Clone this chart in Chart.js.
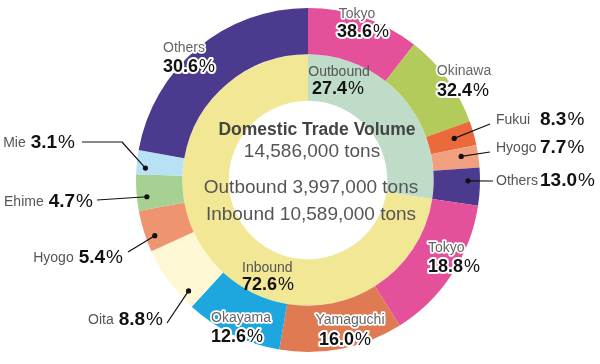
<!DOCTYPE html>
<html>
<head>
<meta charset="utf-8">
<script src="https://cdn.jsdelivr.net/npm/chart.js@4.4.1/dist/chart.umd.min.js"></script>
<style>
  html, body { margin: 0; padding: 0; background: #ffffff; }
  #wrap { width: 600px; height: 364px; }
</style>
</head>
<body>
<div id="wrap"><canvas id="c" width="600" height="364"></canvas></div>
<script>
// ---------------- data ----------------
const directionNames = ['Outbound', 'Inbound'];
const directionShares = [27.4, 72.6];
const outboundRegions = ['Tokyo', 'Okinawa', 'Fukui', 'Hyogo', 'Others'];
const outboundShares = [38.6, 32.4, 8.3, 7.7, 13.0];
const inboundRegions = ['Tokyo', 'Yamaguchi', 'Okayama', 'Oita', 'Hyogo', 'Ehime', 'Mie', 'Others'];
const inboundShares = [18.8, 16.0, 12.6, 8.8, 5.4, 4.7, 3.1, 30.6];
const titleText = 'Domestic Trade Volume';
const totalText = '14,586,000 tons';
const outboundText = 'Outbound 3,997,000 tons';
const inboundText = 'Inbound 10,589,000 tons';

// ---------------- styles ----------------
const outboundColors = ['#e5509a', '#b3cb5a', '#ea6a3c', '#f0a07e', '#4b3a8e'];
const inboundColors = ['#e5509a', '#df7a52', '#1ea7de', '#fdf7d3', '#ee9470', '#a6d192', '#b8e1f6', '#4b3a8e'];
const directionColors = ['#bedcc8', '#f1e795'];

// outer-ring region labels (index into combined outer ring), offsets relative to chart centre
const outerLabelLayout = [
  { type: 'inside', name: [49, -166], value: [55, -148], align: 'center' },   // Tokyo out
  { type: 'inside', name: [156, -109], value: [155, -89], align: 'center' },  // Okinawa
  { type: 'callout', frac: 0.5, r: 152, path: [[182, -56]], side: 'right', ty: -60 }, // Fukui
  { type: 'callout', frac: 0.4, r: 155, path: [[182, -28]], side: 'right', ty: -32 }, // Hyogo out
  { type: 'callout', frac: 0.35, r: 160, path: [[185, 1]], side: 'right', ty: 1 },   // Others out
  { type: 'inside', name: [120, 68], value: [120, 87], align: 'left' },       // Tokyo in
  { type: 'inside', name: [42, 140], value: [37, 160], align: 'center' },     // Yamaguchi
  { type: 'inside', name: [-67, 138], value: [-71, 157], align: 'center' },   // Okayama
  { type: 'callout', frac: 0.2, r: 163, path: [[-141, 143]], side: 'left', tx: -145, ty: 140 }, // Oita
  { type: 'callout', frac: 0.32, r: 163, path: [[-180, 72]], side: 'left', tx: -185, ty: 78 },  // Hyogo in
  { type: 'callout', frac: 0.36, r: 162, path: [[-211, 20]], side: 'left', tx: -215, ty: 22 },  // Ehime
  { type: 'callout', frac: 0.28, r: 163, path: [[-186, -38], [-226, -38]], side: 'left', tx: -233, ty: -37 }, // Mie
  { type: 'inside', name: [-145, -132], value: [-145, -113], align: 'left' }  // Others in
];
const innerLabelLayout = [
  { name: [31, -108], value: [30, -91], align: 'center' },
  { name: [-66, 88], value: [-66, 105], align: 'left' }
];

const FONT = '"Liberation Sans", Arial, Helvetica, sans-serif';

// ---------------- derived chart data ----------------
const outerLabels = outboundRegions.concat(inboundRegions);
const outerPcts = outboundShares.concat(inboundShares);
const outerValues = outboundShares.map(v => v * directionShares[0] / 100)
  .concat(inboundShares.map(v => v * directionShares[1] / 100));
const outerColors = outboundColors.concat(inboundColors);

function drawPct(ctx, num, x, y, align, size, outline) {
  const bold = `bold ${size}px ${FONT}`;
  const norm = `normal ${size}px ${FONT}`;
  ctx.font = bold; const w1 = ctx.measureText(num).width;
  ctx.font = norm; const w2 = ctx.measureText('%').width;
  const gap = 1;
  const total = w1 + gap + w2;
  const x0 = align === 'center' ? x - total / 2 : (align === 'right' ? x - total : x);
  ctx.textAlign = 'left';
  ctx.textBaseline = 'middle';
  if (outline) {
    ctx.lineJoin = 'round';
    ctx.lineWidth = 4;
    ctx.strokeStyle = '#ffffff';
    ctx.font = bold; ctx.strokeText(num, x0, y);
    ctx.font = norm; ctx.strokeText('%', x0 + w1 + gap, y);
  }
  ctx.fillStyle = '#111111';
  ctx.font = bold; ctx.fillText(num, x0, y);
  ctx.font = norm; ctx.fillText('%', x0 + w1 + gap, y);
  return total;
}
function drawName(ctx, text, x, y, align, size, outline, color) {
  ctx.font = `normal ${size}px ${FONT}`;
  ctx.textAlign = align;
  ctx.textBaseline = 'middle';
  if (outline) {
    ctx.lineJoin = 'round';
    ctx.lineWidth = 3.5;
    ctx.strokeStyle = '#ffffff';
    ctx.strokeText(text, x, y);
  }
  ctx.fillStyle = color || '#555555';
  ctx.fillText(text, x, y);
  return ctx.measureText(text).width;
}

const labelPlugin = {
  id: 'ringLabels',
  afterDraw(chart) {
    const ctx = chart.ctx;
    const outerMeta = chart.getDatasetMeta(0);
    const innerMeta = chart.getDatasetMeta(1);
    const arc0 = outerMeta.data[0];
    const cx = arc0.x, cy = arc0.y;
    ctx.save();

    // centre text
    ctx.fillStyle = '#444444';
    ctx.textAlign = 'center';
    ctx.textBaseline = 'middle';
    ctx.font = `bold 17.5px ${FONT}`;
    ctx.fillText(titleText, cx + 9, cy - 50);
    ctx.fillStyle = '#555555';
    ctx.font = `normal 19px ${FONT}`;
    ctx.fillText(totalText, cx + 4, cy - 28);
    ctx.fillText(outboundText, cx + 3, cy + 8);
    ctx.fillText(inboundText, cx + 3, cy + 35);

    // inner ring labels
    innerMeta.data.forEach((arc, i) => {
      const L = innerLabelLayout[i];
      drawName(ctx, directionNames[i], cx + L.name[0], cy + L.name[1], L.align, 14, false, '#555555');
      drawPct(ctx, directionShares[i].toFixed(1), cx + L.value[0], cy + L.value[1], L.align, 18, false);
    });

    // outer ring labels
    outerMeta.data.forEach((arc, i) => {
      const L = outerLabelLayout[i];
      const p = arc.getProps(['x', 'y', 'startAngle', 'endAngle'], true);
      const pct = outerPcts[i].toFixed(1);
      if (L.type === 'inside') {
        drawName(ctx, outerLabels[i], cx + L.name[0], cy + L.name[1], L.align, 14, true, '#666666');
        drawPct(ctx, pct, cx + L.value[0], cy + L.value[1], L.align, 18, true);
      } else {
        const a = p.startAngle + (p.endAngle - p.startAngle) * L.frac;
        const dx = p.x + L.r * Math.cos(a);
        const dy = p.y + L.r * Math.sin(a);
        ctx.strokeStyle = '#111111';
        ctx.lineWidth = 1.2;
        ctx.beginPath();
        ctx.moveTo(dx, dy);
        L.path.forEach(q => ctx.lineTo(cx + q[0], cy + q[1]));
        ctx.stroke();
        ctx.fillStyle = '#111111';
        ctx.beginPath();
        ctx.arc(dx, dy, 2.6, 0, Math.PI * 2);
        ctx.fill();
        if (L.side === 'right') {
          drawName(ctx, outerLabels[i], cx + 188, cy + L.ty, 'left', 14, false, '#555555');
          drawPct(ctx, pct, cx + 232, cy + L.ty, 'left', 19, false);
        } else {
          const w = drawPct(ctx, pct, cx + L.tx, cy + L.ty, 'right', 19, false);
          drawName(ctx, outerLabels[i], cx + L.tx - w - 5, cy + L.ty, 'right', 14, false, '#555555');
        }
      }
    });
    ctx.restore();
  }
};

new Chart(document.getElementById('c'), {
  type: 'doughnut',
  data: {
    labels: outerLabels,
    datasets: [
      { label: 'Region', data: outerValues, backgroundColor: outerColors, borderWidth: 0 },
      { label: 'Direction', data: directionShares, backgroundColor: directionColors, borderWidth: 0 }
    ]
  },
  options: {
    responsive: false,
    devicePixelRatio: 1,
    animation: false,
    radius: 172,
    cutout: 83,
    layout: { padding: { left: 16, right: 0, top: 0, bottom: 4 } },
    plugins: { legend: { display: false }, tooltip: { enabled: false } }
  },
  plugins: [labelPlugin]
});
</script>
</body>
</html>
